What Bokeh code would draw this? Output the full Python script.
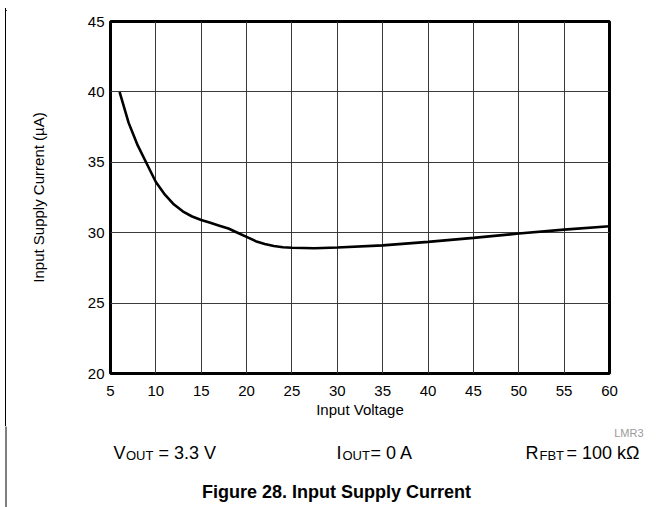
import math
from bokeh.plotting import figure
from bokeh.models import Range1d, FixedTicker, Label, Div
from bokeh.layouts import row, column
from bokeh.embed import file_html
from bokeh.resources import INLINE

# ---- data ----
vin = [6, 7, 8, 9, 10, 11, 12, 13, 14, 15, 16, 17, 18, 19, 20, 21, 22, 23, 24, 25,
       27.5, 30, 35, 40, 45, 50, 55, 60]
iq = [40.0, 37.8, 36.2, 34.9, 33.6, 32.7, 32.0, 31.5, 31.15, 30.9, 30.7, 30.5, 30.3,
      30.0, 29.7, 29.4, 29.2, 29.05, 28.97, 28.93, 28.9, 28.95, 29.1, 29.35, 29.63,
      29.94, 30.22, 30.46]
x_ticks = [5, 10, 15, 20, 25, 30, 35, 40, 45, 50, 55, 60]
y_ticks = [20, 25, 30, 35, 40, 45]

FONT = "Liberation Sans"
PW, PH = 669, 507          # whole picture
EL = 6                     # width of the left strip (page's left rule)
ET = 8                     # height of the top strip (page's top rule)
SPLIT = 426                # page y where the caption area starts
FL, FR, FT, FB = 110, 609, 21, 373   # chart frame edges on the page


def blank(width, height, x0, x1, y0, y1):
    f = figure(width=width, height=height, output_backend="svg", toolbar_location=None,
               x_range=Range1d(x0, x1), y_range=Range1d(y0, y1),
               x_axis_location=None, y_axis_location=None,
               min_border=0, min_border_left=0, min_border_right=0,
               min_border_top=0, min_border_bottom=0)
    f.grid.visible = False
    f.outline_line_color = None
    f.background_fill_color = "white"
    f.border_fill_color = "white"
    return f


# page frame rules (top and left) as plain HTML strips
top = Div(text=('<div style="margin:5px 0 0 5px;width:%dpx;height:2px;'
                'border-top:1px solid #000;border-left:1px solid #000;"></div>'
                % (PW - 6)),
          width=PW, height=ET, margin=0)
AH = SPLIT - ET
left = Div(text=('<div style="margin:0 0 0 5px;width:0px;height:%dpx;'
                 'border-left:1px solid #000;"></div>' % AH),
           width=EL, height=AH, margin=0)

# main chart
AW = PW - EL
p = figure(width=AW, height=AH, output_backend="svg", toolbar_location=None,
           x_range=Range1d(5, 60), y_range=Range1d(20, 45),
           min_border_left=FL - EL, min_border_right=AW - (FR - EL),
           min_border_top=FT - ET, min_border_bottom=AH - (FB - ET))
p.background_fill_color = "white"
p.border_fill_color = "white"
p.outline_line_color = "black"
p.outline_line_width = 3

for ax in (p.xaxis[0], p.yaxis[0]):
    ax.axis_line_color = None
    ax.major_tick_line_color = None
    ax.minor_tick_line_color = None
    ax.major_tick_out = 0
    ax.major_tick_in = 0
    ax.major_label_text_font = FONT
    ax.major_label_text_font_size = "15px"
    ax.major_label_text_color = "black"
    ax.axis_label_text_font = FONT
    ax.axis_label_text_font_size = "15px"
    ax.axis_label_text_font_style = "normal"
    ax.axis_label_text_color = "black"
p.xaxis.ticker = FixedTicker(ticks=x_ticks)
p.yaxis.ticker = FixedTicker(ticks=y_ticks)
p.xaxis.major_label_standoff = 12
p.yaxis.major_label_standoff = 6
p.xaxis.axis_label = "Input Voltage"
p.yaxis.axis_label = "Input Supply Current (\u00b5A)"
p.xaxis.axis_label_standoff = 2
p.yaxis.axis_label_standoff = 38

p.xgrid.ticker = FixedTicker(ticks=x_ticks)
p.ygrid.ticker = FixedTicker(ticks=y_ticks)
for g in (p.xgrid[0], p.ygrid[0]):
    g.grid_line_color = "#3a3a3a"
    g.grid_line_width = 1

p.line(vin, iq, line_color="black", line_width=2.6)

# caption area (full width): data units equal page pixels
cap = blank(PW, PH - SPLIT, 0, PW, PH, SPLIT)
cap.quad(left=[5], right=[6], top=[SPLIT - 20], bottom=[PH + 20], fill_color="black",
         line_color=None)


def lab(text, x, y, size, **kw):
    opts = dict(x=x, y=y, text=text, text_font=FONT, text_font_size=f"{size}px",
                text_color="black")
    opts.update(kw)
    cap.add_layout(Label(**opts))


lab("LMR3", 643, 432, 11, text_align="right", text_baseline="alphabetic",
    text_color="#9a9a9a")

BASE = 452
lab("V", 113, BASE, 18, text_baseline="alphabetic")
lab("OUT", 125.5, BASE + 3, 13, text_baseline="alphabetic")
lab("= 3.3 V", 158, BASE, 18, text_baseline="alphabetic")
lab("I", 336, BASE, 18, text_baseline="alphabetic")
lab("OUT", 342, BASE + 3, 13, text_baseline="alphabetic")
lab("= 0 A", 370, BASE, 18, text_baseline="alphabetic")
lab("R", 525, BASE, 18, text_baseline="alphabetic")
lab("FBT", 539, BASE + 3, 13, text_baseline="alphabetic")
lab("= 100 k\u03a9", 566, BASE, 18, text_baseline="alphabetic")

lab("Figure 28. Input Supply Current", 336, 491, 18, text_align="center",
    text_baseline="middle", text_font_style="bold")

layout = column(top, row(left, column(p, spacing=0), spacing=0), cap, spacing=0)
open("out.html", "w").write(file_html(layout, INLINE))
